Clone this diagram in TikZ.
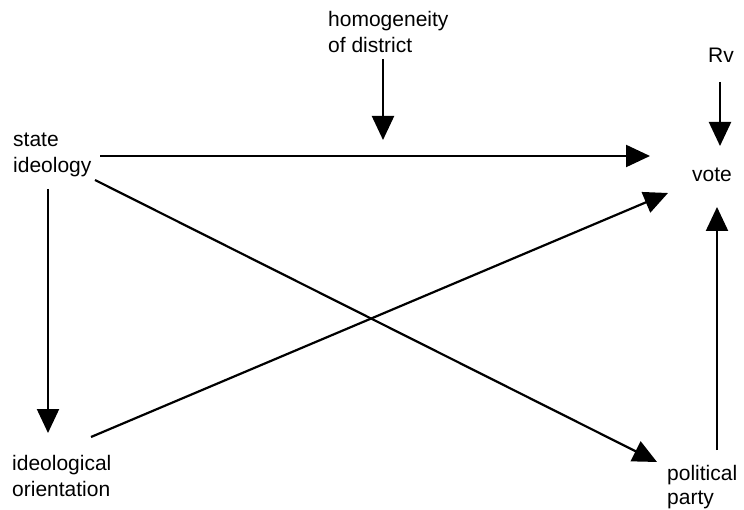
\documentclass[tikz,border=0pt]{standalone}
\usepackage{fontspec}
\setmainfont{Liberation Sans}
\usetikzlibrary{arrows.meta}
\begin{document}
\begin{tikzpicture}[x=1pt,y=-1pt,
  lbl/.style={anchor=base west, inner sep=0pt, align=left, font=\fontsize{21}{26}\selectfont},
  arr/.style={line width=2.2pt, -{Triangle[length=24pt,width=22pt]}}]
\useasboundingbox (0,0) rectangle (744,510);
% anchor = baseline of the last line
\node[lbl] (state) at (13,173) {state\\ideology};
\node[lbl] (homog) at (328,53) {homogeneity\\of district};
\node[lbl] (rv) at (708,63) {Rv};
\node[lbl] (vote) at (692,182) {vote};
\node[lbl] (orient) at (12,496) {ideological\\orientation};
\node[lbl, font=\fontsize{21}{24}\selectfont] (party) at (667,504) {political\\party};
% connector ends
\coordinate (stateR) at (100,156);
\coordinate (stateB) at (48,189);
\coordinate (stateD) at (95,180);
\coordinate (voteL) at (650,156);
\coordinate (voteD) at (668,193);
\coordinate (voteB) at (717,207);
\coordinate (voteT) at (720,146);
\coordinate (homogB) at (383,59);
\coordinate (homogT) at (383,140);
\coordinate (rvB) at (720,82);
\coordinate (partyT) at (717,450);
\coordinate (partyL) at (657,462);
\coordinate (orientT) at (48,433);
\coordinate (orientR) at (91,437);
\draw[arr] (stateR) -- (voteL);
\draw[arr] (homogB) -- (homogT);
\draw[arr] (rvB) -- (voteT);
\draw[arr] (partyT) -- (voteB);
\draw[arr] (stateD) -- (partyL);
\draw[arr] (stateB) -- (orientT);
\draw[arr] (orientR) -- (voteD);
\end{tikzpicture}
\end{document}
